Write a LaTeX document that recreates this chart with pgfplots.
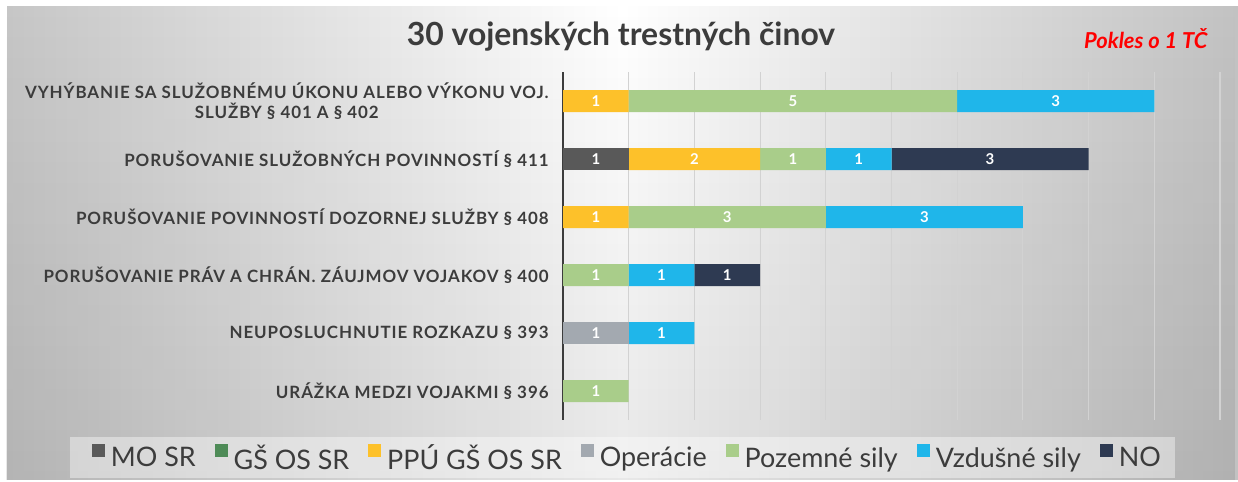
\documentclass[border=0pt]{standalone}
\usepackage{pgfplots}
\pgfplotsset{compat=1.18}
\usepackage{pgfplotstable}
\usetikzlibrary{fadings}
\usepackage{fontspec}
\setmainfont{Lato}
\definecolor{cMO}{HTML}{595959}
\definecolor{cGS}{HTML}{4E8B57}
\definecolor{cPPU}{HTML}{FDC12A}
\definecolor{cOP}{HTML}{A3A9B0}
\definecolor{cPOZ}{HTML}{A9CD8A}
\definecolor{cVZ}{HTML}{1FB6EA}
\definecolor{cNO}{HTML}{2E3A52}
\definecolor{txt}{HTML}{3C3C3C}
\definecolor{gridc}{HTML}{D2D2D2}
\definecolor{bgl}{HTML}{C6C6C6}
\definecolor{bgr}{HTML}{C2C2C2}

% idx: 0 = top category
\pgfplotstableread{
idx mo gs ppu op poz vz no
0   0  0  1   0  5   3  0
1   1  0  2   0  1   1  3
2   0  0  1   0  3   3  0
3   0  0  0   0  1   1  1
4   0  0  0   1  0   1  0
5   0  0  0   0  1   0  0
}\datatable

\begin{document}
\begin{tikzpicture}
\fill[white] (0bp,0bp) rectangle (1238bp,482bp);
\shade[left color=bgl, right color=bgr, middle color=white] (7bp,2bp) rectangle (1238bp,475bp);
\fill[black, opacity=0.09, path fading=north] (7bp,2bp) rectangle (1238bp,475bp);
\fill[white, opacity=0.4] (70bp,4bp) rectangle (1175bp,45bp);
\node[font=\fontsize{32}{36}\selectfont\bfseries, text=txt] at (621bp,445bp) {30 vojenských trestných činov};
\node[font=\fontsize{22}{25}\selectfont\bfseries\itshape, text=red, anchor=east] at (1211bp,443bp) {Pokles o 1 TČ};
\begin{axis}[
  at={(563bp,62bp)}, anchor=south west,
  scale only axis, width=657bp, height=348bp,
  xbar stacked, bar width=22bp,
  xmin=0, xmax=10, ymin=-0.5, ymax=5.5, y dir=reverse,
  axis y line*=left, axis x line*=bottom,
  x axis line style={draw=none},
  y axis line style={draw=txt, line width=1.4bp},
  xtick={0,...,10}, xticklabels={}, major tick length=0pt,
  xmajorgrids, grid style={gridc, line width=1.1bp},
  ytick={0,...,5},
  ytick style={draw=none},
  yticklabel style={align=center, font=\fontsize{17}{20}\selectfont\bfseries\addfontfeature{LetterSpace=5.5}, text=txt, xshift=-11bp},
  yticklabels={{VYHÝBANIE SA SLUŽOBNÉMU ÚKONU ALEBO VÝKONU VOJ.\\SLUŽBY § 401 A § 402},
               {PORUŠOVANIE SLUŽOBNÝCH POVINNOSTÍ § 411},
               {PORUŠOVANIE POVINNOSTÍ DOZORNEJ SLUŽBY § 408},
               {PORUŠOVANIE PRÁV A CHRÁN. ZÁUJMOV VOJAKOV § 400},
               {NEUPOSLUCHNUTIE ROZKAZU § 393},
               {URÁŽKA MEDZI VOJAKMI § 396}},
  clip=false,
  visualization depends on={rawx \as \rawx},
  nodes near coords={\ifdim\rawx pt>0pt \pgfmathtruncatemacro\vv{\rawx}\vv\fi},
  every node near coord/.append style={anchor=center, text=white, font=\fontsize{15}{17}\selectfont\bfseries},
  legend columns=-1,
  legend style={at={(0.098,-0.109)}, anchor=center, draw=none, fill=none,
    font=\fontsize{27}{30}\selectfont, text=txt,
    /tikz/every even column/.append style={column sep=17bp}},
  legend image code/.code={\fill[#1] (0bp,0.5bp) rectangle (13bp,13.5bp); \path (17bp,0bp);},
]
\addplot[fill=cMO, draw=none] table[x=mo, y=idx] {\datatable};
\addplot[fill=cGS, draw=none] table[x=gs, y=idx] {\datatable};
\addplot[fill=cPPU, draw=none] table[x=ppu, y=idx] {\datatable};
\addplot[fill=cOP, draw=none] table[x=op, y=idx] {\datatable};
\addplot[fill=cPOZ, draw=none] table[x=poz, y=idx] {\datatable};
\addplot[fill=cVZ, draw=none] table[x=vz, y=idx] {\datatable};
\addplot[fill=cNO, draw=none] table[x=no, y=idx] {\datatable};
\legend{MO SR, GŠ OS SR, PPÚ GŠ OS SR, Operácie, Pozemné sily, Vzdušné sily, NO}
\end{axis}
\end{tikzpicture}
\end{document}
